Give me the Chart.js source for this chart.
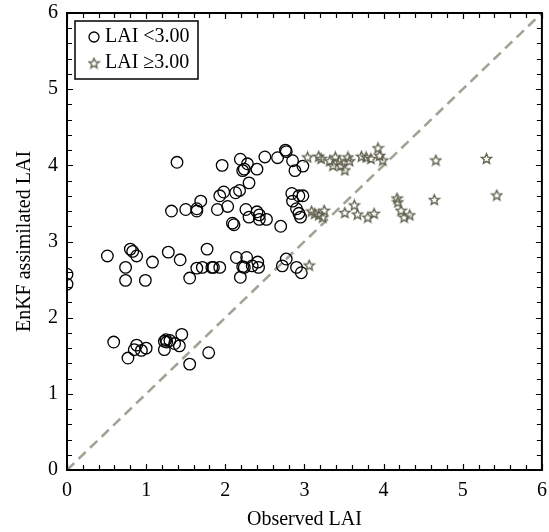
<!DOCTYPE html>
<html>
<head>
<meta charset="utf-8">
<script src="https://cdn.jsdelivr.net/npm/chart.js@4"></script>
<style>
  html, body { margin: 0; padding: 0; background: #fff; }
  #wrap { width: 549px; height: 532px; }
</style>
</head>
<body>
<div id="wrap"><canvas id="laiChart" width="549" height="532"></canvas></div>
<script>
// circles: observed LAI < 3
const lowObs = [1.39, 1.96, 2.19, 2.28, 2.24, 2.22, 2.40, 2.50, 2.66, 2.76, 2.77, 2.85, 2.88, 2.98,
    2.30, 1.93, 1.98, 2.13, 2.18, 1.69, 1.64, 1.64, 1.32, 1.50, 1.90, 2.03, 2.09, 2.11, 2.26, 2.30,
    2.40, 2.43, 2.43, 2.52, 2.70, 2.84, 2.85, 2.93, 2.98, 2.90, 2.93, 2.95,
    0.00, 0.00, 0.51, 0.74, 0.74, 0.80, 0.83, 0.88, 0.99, 1.08, 1.28, 1.43, 1.55, 1.64, 1.71, 1.77,
    1.83, 1.85, 1.93, 2.14, 2.27, 2.19, 2.22, 2.24, 2.34, 2.41, 2.42, 2.72, 2.77, 2.90, 2.96,
    0.59, 0.77, 0.85, 0.88, 0.94, 1.00, 1.23, 1.23, 1.25, 1.26, 1.30, 1.36, 1.42, 1.45, 1.55, 1.79];
const lowEnkf = [4.04, 4.00, 4.08, 4.02, 3.95, 3.93, 3.95, 4.11, 4.10, 4.20, 4.18, 4.06, 3.93, 3.99,
    3.77, 3.60, 3.65, 3.64, 3.67, 3.53, 3.43, 3.40, 3.40, 3.42, 3.42, 3.46, 3.24, 3.22, 3.42, 3.32,
    3.39, 3.35, 3.29, 3.29, 3.20, 3.63, 3.53, 3.60, 3.60, 3.43, 3.37, 3.32,
    2.57, 2.44, 2.81, 2.66, 2.49, 2.90, 2.87, 2.81, 2.49, 2.73, 2.86, 2.76, 2.52, 2.65, 2.66, 2.90,
    2.66, 2.66, 2.66, 2.79, 2.79, 2.53, 2.67, 2.66, 2.68, 2.73, 2.66, 2.68, 2.77, 2.66, 2.59,
    1.68, 1.47, 1.58, 1.64, 1.57, 1.60, 1.58, 1.69, 1.71, 1.68, 1.70, 1.66, 1.63, 1.78, 1.39, 1.54];

// stars: observed LAI >= 3
const highObs = [3.04, 3.18, 3.21, 3.32, 3.36, 3.39, 3.44, 3.46, 3.51, 3.55, 3.57, 3.72, 3.78, 3.84,
    3.93, 3.95, 3.99, 4.66, 5.30,
    5.43, 4.64, 4.17, 4.18, 4.22, 4.26, 4.33, 3.09, 3.13, 3.18, 3.25, 3.23, 3.51, 3.63, 3.67, 3.80, 3.88,
    3.06];
const highEnkf = [4.11, 4.12, 4.09, 4.06, 4.00, 4.11, 4.06, 4.00, 3.94, 4.11, 4.06, 4.12, 4.11, 4.09,
    4.23, 4.13, 4.07, 4.07, 4.09,
    3.61, 3.55, 3.57, 3.52, 3.41, 3.32, 3.35, 3.40, 3.37, 3.35, 3.41, 3.32, 3.38, 3.48, 3.36, 3.32, 3.37,
    2.69];

const axisTicks = [0, 1, 2, 3, 4, 5, 6];
const legendLabels = ['LAI <3.00', 'LAI \u22653.00'];

const serif = '"Liberation Serif", "DejaVu Serif", serif';
const starColor = '#5f5f4c';

function makeStar(size, color) {
    const c = document.createElement('canvas');
    c.width = size;
    c.height = size;
    const g = c.getContext('2d');
    const r1 = size / 2 - 1.2, r2 = r1 * 0.45, cx = size / 2, cy = size / 2 + 0.5;
    g.beginPath();
    for (let i = 0; i < 10; i++) {
        const r = i % 2 === 0 ? r1 : r2;
        const a = -Math.PI / 2 + i * Math.PI / 5;
        const px = cx + r * Math.cos(a), py = cy + r * Math.sin(a);
        if (i === 0) g.moveTo(px, py); else g.lineTo(px, py);
    }
    g.closePath();
    g.strokeStyle = color;
    g.lineWidth = 1.3;
    g.stroke();
    return c;
}
const starImg = makeStar(13, starColor);

function toPoints(xs, ys) {
    return xs.map((x, i) => ({ x: x, y: ys[i] }));
}

// box, inward ticks and legend
const frame = {
    id: 'frame',
    afterDraw(chart) {
        const ctx = chart.ctx;
        const a = chart.chartArea;
        const xs = chart.scales.x, ys = chart.scales.y;
        ctx.save();
        ctx.strokeStyle = '#000';
        ctx.lineWidth = 1.2;
        ctx.beginPath();
        for (let v = 0; v <= 30; v++) {
            const len = v % 5 === 0 ? 6 : 5;
            const px = Math.round(xs.getPixelForValue(v / 5)) + 0.5;
            const py = Math.round(ys.getPixelForValue(v / 5)) + 0.5;
            ctx.moveTo(px, a.bottom); ctx.lineTo(px, a.bottom - len);
            ctx.moveTo(px, a.top); ctx.lineTo(px, a.top + len);
            ctx.moveTo(a.left, py); ctx.lineTo(a.left + len, py);
            ctx.moveTo(a.right, py); ctx.lineTo(a.right - len, py);
        }
        ctx.stroke();
        ctx.lineWidth = 2;
        ctx.strokeRect(a.left, a.top, a.right - a.left, a.bottom - a.top);

        // legend
        const lx = a.left + 8, ly = a.top + 8, lw = 123, lh = 58;
        ctx.lineWidth = 1.5;
        ctx.fillStyle = '#fff';
        ctx.fillRect(lx, ly, lw, lh);
        ctx.strokeRect(lx, ly, lw, lh);
        ctx.beginPath();
        ctx.lineWidth = 1.3;
        ctx.arc(lx + 19, ly + 16, 5, 0, Math.PI * 2);
        ctx.stroke();
        ctx.drawImage(starImg, lx + 19 - 6.5, ly + 42 - 6.5);
        ctx.fillStyle = '#000';
        ctx.font = '20px ' + serif;
        ctx.textBaseline = 'middle';
        ctx.fillText(legendLabels[0], lx + 30, ly + 16);
        ctx.fillText(legendLabels[1], lx + 30, ly + 42);
        ctx.restore();
    }
};

new Chart(document.getElementById('laiChart'), {
    type: 'scatter',
    data: {
        datasets: [
            {
                label: legendLabels[0],
                data: toPoints(lowObs, lowEnkf),
                pointStyle: 'circle',
                pointRadius: 5.8,
                borderColor: '#000',
                borderWidth: 1.3,
                backgroundColor: 'rgba(0,0,0,0)',
                order: 2,
            },
            {
                label: legendLabels[1],
                data: toPoints(highObs, highEnkf),
                pointStyle: starImg,
                pointRadius: 6,
                order: 1,
            },
            {
                type: 'line',
                label: '1:1',
                data: [{ x: 0, y: 0 }, { x: 6, y: 6 }],
                borderColor: '#a3a395',
                borderWidth: 2.6,
                borderDash: [10, 6],
                pointRadius: 0,
                order: 3,
            },
        ],
    },
    options: {
        responsive: false,
        animation: false,
        events: [],
        layout: {
            padding: { top: 13, right: 6, left: 0, bottom: 0 },
        },
        plugins: {
            legend: { display: false },
            tooltip: { enabled: false },
        },
        scales: {
            x: {
                type: 'linear',
                min: 0,
                max: 6,
                afterBuildTicks: (s) => { s.ticks = axisTicks.map(v => ({ value: v })); },
                afterFit: (s) => { s.height = 62; s.paddingLeft = 0; s.paddingRight = 0; },
                grid: { display: false, drawTicks: false },
                border: { display: false },
                ticks: {
                    padding: 9,
                    color: '#000',
                    font: { family: serif, size: 20 },
                },
                title: {
                    display: true,
                    text: 'Observed LAI',
                    color: '#000',
                    font: { family: serif, size: 20 },
                    padding: { top: 2, bottom: 0 },
                },
            },
            y: {
                type: 'linear',
                min: 0,
                max: 6,
                afterBuildTicks: (s) => { s.ticks = axisTicks.map(v => ({ value: v })); },
                afterFit: (s) => { s.width = 67; s.paddingTop = 0; s.paddingBottom = 0; },
                grid: { display: false, drawTicks: false },
                border: { display: false },
                ticks: {
                    padding: 9,
                    color: '#000',
                    font: { family: serif, size: 20 },
                },
                title: {
                    display: true,
                    text: 'EnKF assimilated LAI',
                    color: '#000',
                    font: { family: serif, size: 20 },
                    padding: { top: 13, bottom: 0 },
                },
            },
        },
    },
    plugins: [frame],
});
</script>
</body>
</html>
